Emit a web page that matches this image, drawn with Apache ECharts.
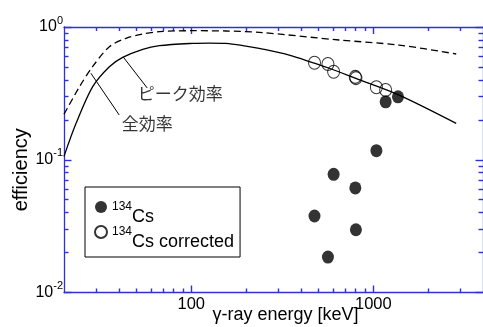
<!DOCTYPE html>
<html><head><meta charset="utf-8">
<script src="https://cdn.jsdelivr.net/npm/echarts@6/dist/echarts.min.js"></script>
<style>html,body{margin:0;padding:0;background:#fff}#c{width:483px;height:327px}</style>
</head><body><div id="c"></div>
<script>
// axis ranges and tick values
const xRange = [20, 4000];
const yRange = [0.01, 1];
const xMajorTicks = [100, 1000];
const xMinorTicks = [30, 40, 50, 60, 70, 80, 90, 200, 300, 400, 500, 600, 700, 800, 900, 2000, 3000];
const yMajorTicks = [0.01, 0.1, 1];
const yMinorTicks = [0.02, 0.03, 0.04, 0.05, 0.06, 0.07, 0.08, 0.09, 0.2, 0.3, 0.4, 0.5, 0.6, 0.7, 0.8, 0.9];

// peak efficiency curve (solid)
const peakEnergy = [20, 23.3, 28.7, 35.5, 42, 54.1, 66.8, 101.6, 125.5, 155, 199.5, 236, 345, 573, 801, 1384, 2850];
const peakEff = [0.106, 0.188, 0.354, 0.502, 0.590, 0.679, 0.723, 0.753, 0.757, 0.753, 0.719, 0.691, 0.615, 0.489, 0.410, 0.307, 0.188];
// total efficiency curve (dashed)
const totalEnergy = [20, 24.3, 28.7, 35.5, 43.8, 54.1, 66.8, 101.6, 155, 236, 648, 1384, 2850];
const totalEff = [0.22, 0.354, 0.502, 0.710, 0.822, 0.885, 0.922, 0.938, 0.933, 0.912, 0.798, 0.731, 0.626];
// 134Cs measured
const csEnergy = [475, 563, 605, 796, 802, 1039, 1168, 1365];
const csEff = [0.0377, 0.0185, 0.0777, 0.0613, 0.0297, 0.117, 0.273, 0.298];
// 134Cs corrected
const corrEnergy = [475, 563, 605, 796, 802, 1039, 1168];
const corrEff = [0.538, 0.526, 0.460, 0.421, 0.412, 0.352, 0.335];

// annotations (data coordinates)
const peakLabel = 'ピーク効率';
const totalLabel = '全効率';
const peakLeaderE = [42.3, 57.3], peakLeaderEff = [0.594, 0.347];
const totalLeaderE = [28.1, 40.2], totalLeaderEff = [0.448, 0.2174];
const peakLabelAt = [87.0, 0.313];
const totalLabelAt = [57.3, 0.186];

const AX = '#3030d8';
const FONT = '"Liberation Sans", Arial, sans-serif';
const zip = (a, b) => a.map((v, i) => [v, b[i]]);
const lg = v => Math.log10(v);

// main log axes: line, labels, name (no ticks)
const xMain = {
  type: 'log', logBase: 10, min: xRange[0], max: xRange[1], position: 'bottom',
  axisLine: { show: true, onZero: false, lineStyle: { color: AX, width: 1.3 } },
  axisTick: { show: false }, splitLine: { show: false }, minorTick: { show: false },
  axisLabel: { show: true, margin: 3, color: '#000', fontSize: 16.5, fontFamily: FONT, formatter: v => String(v),
    showMinLabel: false, showMaxLabel: false },
  name: 'γ-ray energy [keV]', nameLocation: 'middle', nameGap: 14, nameMoveOverlap: false,
  nameTextStyle: { color: '#000', fontSize: 18, fontFamily: FONT, padding: [0, 0, 0, 24] }
};
const yMain = {
  type: 'log', logBase: 10, min: yRange[0], max: yRange[1], position: 'left',
  axisLine: { show: true, onZero: false, lineStyle: { color: AX, width: 1.3 } },
  axisTick: { show: false }, splitLine: { show: false }, minorTick: { show: false },
  axisLabel: {
    show: true, margin: 1, color: '#000', fontFamily: FONT,
    formatter: v => '{b|10}{s|' + Math.round(Math.log10(v)) + '}',
    rich: {
      b: { fontSize: 16, fontFamily: FONT, color: '#000' },
      s: { fontSize: 11, fontFamily: FONT, color: '#000', padding: [0, 0, 13, 0] }
    }
  },
  name: 'efficiency', nameLocation: 'middle', nameGap: 33, nameMoveOverlap: false,
  nameTextStyle: { color: '#000', fontSize: 20, fontFamily: FONT, padding: [0, 20, 0, 0] }
};
// tick-only axes over the same log range (decorative)
function tickAxis(range, pos, ticks, len, line) {
  return {
    type: 'value', min: lg(range[0]), max: lg(range[1]), position: pos,
    axisLine: { show: line, onZero: false, lineStyle: { color: AX, width: 1.3 } },
    axisTick: { show: true, inside: true, length: len, customValues: ticks.map(lg), lineStyle: { color: AX, width: 1.4 } },
    axisLabel: { show: false }, splitLine: { show: false }, minorTick: { show: false }
  };
}

const chart = echarts.init(document.getElementById('c'), null, { renderer: 'canvas' });
chart.setOption({
  animation: false,
  grid: { left: 64, right: 0, top: 27, bottom: 34.5, containLabel: false, outerBoundsMode: 'none' },
  xAxis: [
    xMain,
    tickAxis(xRange, 'top', xMajorTicks, 7, true),
    tickAxis(xRange, 'bottom', xMajorTicks, 7, false),
    tickAxis(xRange, 'bottom', xMinorTicks, 4, false),
    tickAxis(xRange, 'top', xMinorTicks, 4, false)
  ],
  yAxis: [
    yMain,
    tickAxis(yRange, 'right', yMajorTicks, 7.5, true),
    tickAxis(yRange, 'left', yMajorTicks, 7.5, false),
    tickAxis(yRange, 'left', yMinorTicks, 4.5, false),
    tickAxis(yRange, 'right', yMinorTicks, 4.5, false)
  ],
  legend: {
    orient: 'vertical', left: 85, top: 187,
    padding: [14, 6, 6, 9], itemGap: -1, itemWidth: 12, itemHeight: 13,
    borderColor: '#000', borderWidth: 1, borderRadius: 0,
    data: ['cs', 'corr'],
    formatter: n => n === 'cs' ? '{s|134}{b|Cs}' : '{s|134}{b|Cs corrected}',
    textStyle: {
      rich: {
        s: { fontSize: 12, fontFamily: FONT, color: '#000' },
        b: { fontSize: 18, fontFamily: FONT, color: '#000', padding: [20, 0, 0, 0] }
      }
    }
  },
  series: [
    { type: 'line', name: 'peak', data: zip(peakEnergy, peakEff), smooth: 0.3, showSymbol: false, symbol: 'none',
      lineStyle: { color: '#000', width: 1.3 }, silent: true },
    { type: 'line', name: 'total', data: zip(totalEnergy, totalEff), smooth: 0.3, showSymbol: false, symbol: 'none',
      lineStyle: { color: '#000', width: 1.3, type: [7, 4] }, silent: true },
    { type: 'line', name: 'peakLeader', data: zip(peakLeaderE, peakLeaderEff), symbol: 'none',
      lineStyle: { color: '#000', width: 1 }, silent: true },
    { type: 'line', name: 'totalLeader', data: zip(totalLeaderE, totalLeaderEff), symbol: 'none',
      lineStyle: { color: '#000', width: 1 }, silent: true },
    { type: 'scatter', name: 'labels', symbolSize: 1, itemStyle: { color: 'rgba(0,0,0,0)' }, silent: true,
      data: [
        { value: peakLabelAt, label: { formatter: peakLabel } },
        { value: totalLabelAt, label: { formatter: totalLabel } }
      ],
      label: { show: true, position: 'inside', color: '#000', fontSize: 17, fontFamily: '"Noto Sans CJK JP", sans-serif' } },
    { type: 'scatter', name: 'corr', data: zip(corrEnergy, corrEff), symbol: 'circle', symbolSize: [12, 13],
      itemStyle: { color: 'rgba(255,255,255,0)', borderColor: '#000', borderWidth: 1 } },
    { type: 'scatter', name: 'cs', data: zip(csEnergy, csEff), symbol: 'circle', symbolSize: [12, 13],
      itemStyle: { color: '#000' } }
  ]
});
</script>
</body></html>
